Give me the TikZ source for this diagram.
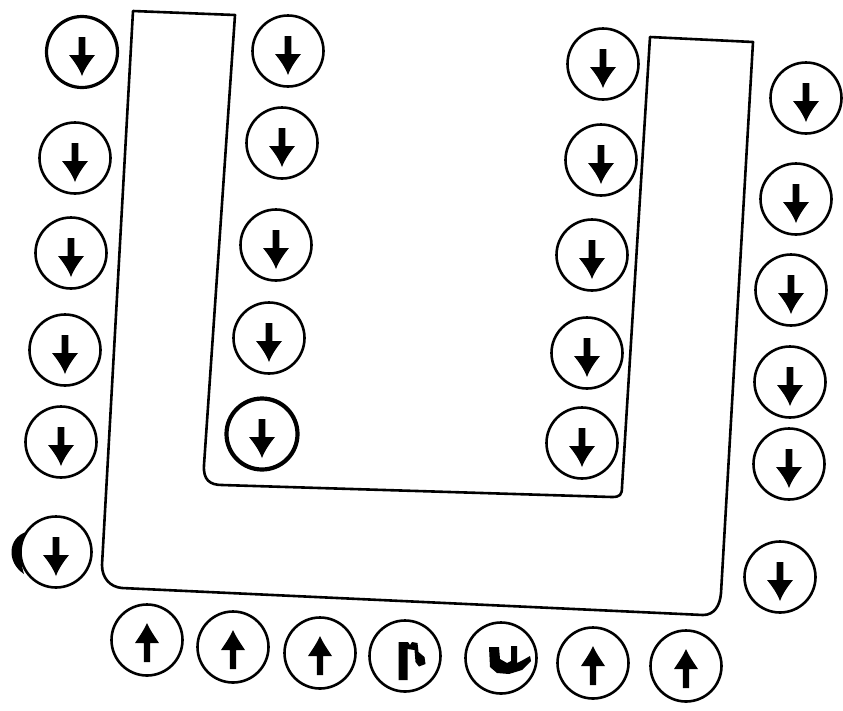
\documentclass[tikz,border=0pt]{standalone}
\begin{document}
\begin{tikzpicture}[x=1pt,y=-1pt,
  outline/.style={line width=2.6pt, line join=round, line cap=round},
  ring/.style={circle, draw, line width=2.6pt, minimum size=71pt, inner sep=0pt},
  dnarrow/.style={ring, path picture={\fill[shift={(path picture bounding box.center)}]
      (-3.4,-15) -- (-3.4,3) -- (-13,3) .. controls (-8,9) and (-3,16) .. (0,24)
      .. controls (3,16) and (8,9) .. (13,3) -- (3.4,3) -- (3.4,-15) -- cycle;}},
  uparrow/.style={ring, path picture={\fill[shift={(path picture bounding box.center)}]
      (-3.2,22) -- (-3.2,3) -- (-12,3) .. controls (-8,-3) and (-3,-10) .. (0,-17)
      .. controls (3,-10) and (8,-3) .. (12,3) -- (3.2,3) -- (3.2,22) -- cycle;}},
  glyphr/.style={ring, path picture={\fill[shift={(path picture bounding box.center)}]
      (-6.5,24) -- (-6.5,-14) -- (3,-14) -- (5,-11) -- (7,-14) -- (12.5,-13) -- (13.5,-4) -- (19.5,1) -- (20.5,8) -- (14,10.5) -- (10.5,6) -- (9.5,-6) -- (2.5,-7) -- (2.5,24) -- cycle;}},
  glyphu/.style={ring, path picture={\fill[shift={(path picture bounding box.center)}]
      (-12,-11) -- (-2,-11) -- (-1,1) -- (6,5) -- (10,3) -- (10,-12) -- (16,-12) -- (16,5) -- (22,2) -- (29,-2) -- (30,3) -- (21,12) -- (8,16) -- (-4,15) -- (-11,9) -- cycle;}}
]
\fill[white] (0,0) rectangle (843,710);
\useasboundingbox (0,0) rectangle (843,710);

% U-shaped outline
\draw[outline] (133,11) -- (235,15) -- (204,465)
  .. controls (203,480) and (210,485) .. (222,485)
  -- (612,497) .. controls (620,497) and (622,495) .. (622,487)
  -- (650,37) -- (753,42) -- (721,593)
  .. controls (720,606) and (714,615) .. (703,615)
  -- (122,588) .. controls (110,587) and (102,578) .. (102,565) -- cycle;

% left outer column
\node[dnarrow, line width=3.2pt] (l1) at (82,52) {};
\node[dnarrow] (l2) at (75,158) {};
\node[dnarrow] (l3) at (71,253) {};
\node[dnarrow] (l4) at (65,350) {};
\node[dnarrow] (l5) at (61,442) {};
\node[dnarrow] (l6) at (56,552) {};
\fill (26,532) .. controls (8,538) and (6,562) .. (24,574)
  .. controls (20,562) and (20,544) .. (26,532) -- cycle;

% inner left column
\node[dnarrow] (a1) at (288,51) {};
\node[dnarrow] (a2) at (282,143) {};
\node[dnarrow] (a3) at (276,245) {};
\node[dnarrow] (a4) at (269,338) {};
\node[dnarrow, line width=4.2pt] (a5) at (262,434) {};

% inner right column
\node[dnarrow] (b1) at (603,64) {};
\node[dnarrow] (b2) at (601,160) {};
\node[dnarrow] (b3) at (592,255) {};
\node[dnarrow] (b4) at (587,353) {};
\node[dnarrow] (b5) at (582,443) {};

% right outer column
\node[dnarrow] (r1) at (806,98) {};
\node[dnarrow] (r2) at (796,199) {};
\node[dnarrow] (r3) at (791,290) {};
\node[dnarrow] (r4) at (790,382) {};
\node[dnarrow] (r5) at (789,464) {};
\node[dnarrow] (r6) at (780,577) {};

% bottom row
\node[uparrow] (u1) at (147,640) {};
\node[uparrow] (u2) at (233,647) {};
\node[uparrow] (u3) at (320,653) {};
\node[glyphr] (u4) at (405,656) {};
\node[glyphu] (u5) at (501,658) {};
\node[uparrow] (u6) at (593,663) {};
\node[uparrow] (u7) at (686,666) {};
\end{tikzpicture}
\end{document}
